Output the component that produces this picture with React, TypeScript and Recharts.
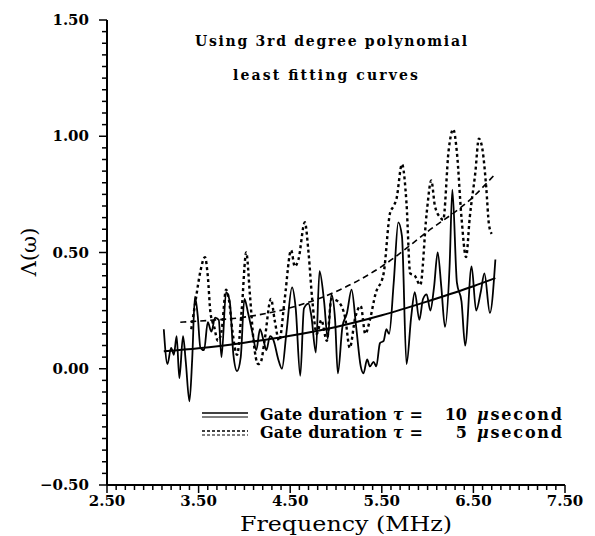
import React from 'react';
import { LineChart, Line, XAxis, YAxis } from 'recharts';

// Gate duration tau = 10 usecond (raw spectrum), [frequency MHz, Lambda]
const gate10: [number, number][] = [
  [3.12, 0.17], [3.16, 0.02], [3.2, 0.09], [3.23, 0.06], [3.26, 0.14], [3.29, -0.04],
  [3.33, 0.14], [3.36, 0.03], [3.4, -0.14], [3.43, 0.04], [3.46, 0.31], [3.49, 0.23],
  [3.52, 0.09], [3.56, 0.08], [3.6, 0.2], [3.64, 0.16], [3.68, 0.22], [3.72, 0.21],
  [3.75, 0.05], [3.8, 0.33], [3.84, 0.29], [3.88, 0.06], [3.92, -0.01], [3.96, 0.05],
  [4.0, 0.3], [4.04, 0.24], [4.09, 0.15], [4.13, 0.08], [4.17, 0.17], [4.21, 0.12],
  [4.24, 0.08], [4.28, 0.14], [4.32, 0.12], [4.37, 0.04], [4.41, 0.0], [4.46, 0.16],
  [4.52, 0.35], [4.56, 0.26], [4.61, -0.03], [4.65, 0.26], [4.7, 0.28], [4.73, 0.23],
  [4.78, 0.07], [4.82, 0.42], [4.87, 0.29], [4.91, 0.13], [4.95, 0.32], [4.99, 0.21],
  [5.02, -0.02], [5.07, 0.18], [5.12, 0.24], [5.17, 0.34], [5.22, 0.18], [5.27, 0.01],
  [5.3, -0.02], [5.34, 0.04], [5.37, 0.01], [5.41, 0.03], [5.44, 0.01], [5.48, 0.11],
  [5.52, 0.12], [5.55, 0.17], [5.58, 0.15], [5.63, 0.37], [5.68, 0.63], [5.72, 0.57],
  [5.77, 0.02], [5.82, 0.22], [5.86, 0.33], [5.91, 0.21], [5.95, 0.3], [5.99, 0.32],
  [6.03, 0.25], [6.07, 0.35], [6.11, 0.5], [6.15, 0.35], [6.19, 0.18], [6.24, 0.44],
  [6.27, 0.77], [6.32, 0.37], [6.37, 0.29], [6.41, 0.1], [6.48, 0.44], [6.53, 0.25],
  [6.58, 0.33], [6.62, 0.41], [6.68, 0.24], [6.74, 0.47],
];

// Gate duration tau = 5 usecond (raw spectrum)
const gate5: [number, number][] = [
  [3.42, 0.17], [3.47, 0.3], [3.52, 0.42], [3.57, 0.48], [3.6, 0.4], [3.63, 0.24],
  [3.67, 0.18], [3.71, 0.12], [3.75, 0.16], [3.8, 0.34], [3.83, 0.3], [3.87, 0.16],
  [3.92, 0.06], [3.97, 0.25], [4.02, 0.5], [4.06, 0.32], [4.1, 0.12], [4.15, 0.02],
  [4.18, 0.03], [4.22, 0.12], [4.29, 0.3], [4.33, 0.21], [4.38, 0.12], [4.44, 0.3],
  [4.51, 0.51], [4.55, 0.44], [4.59, 0.47], [4.66, 0.63], [4.7, 0.5], [4.74, 0.3],
  [4.79, 0.15], [4.84, 0.21], [4.9, 0.12], [4.95, 0.3], [5.02, 0.29], [5.1, 0.22],
  [5.15, 0.09], [5.21, 0.22], [5.27, 0.27], [5.32, 0.15], [5.37, 0.21], [5.43, 0.32],
  [5.52, 0.41], [5.59, 0.67], [5.63, 0.7], [5.66, 0.73], [5.72, 0.88], [5.77, 0.71],
  [5.81, 0.41], [5.86, 0.4], [5.92, 0.36], [5.99, 0.67], [6.04, 0.81], [6.08, 0.7],
  [6.14, 0.65], [6.17, 0.64], [6.23, 0.94], [6.28, 1.03], [6.32, 0.93], [6.37, 0.65],
  [6.42, 0.48], [6.46, 0.65], [6.52, 0.84], [6.56, 0.99], [6.6, 0.94], [6.64, 0.78],
  [6.67, 0.62], [6.7, 0.58],
];

// 3rd degree polynomial least-squares fits
const fit10: [number, number][] = [
  [3.12, 0.075], [3.5, 0.088], [4.0, 0.112], [4.5, 0.142], [5.0, 0.18],
  [5.5, 0.23], [6.0, 0.29], [6.5, 0.355], [6.74, 0.39],
];
const fit5: [number, number][] = [
  [3.3, 0.2], [3.5, 0.205], [4.0, 0.222], [4.5, 0.262], [5.0, 0.332],
  [5.5, 0.44], [6.0, 0.59], [6.5, 0.74], [6.72, 0.83],
];

const xMajorTicks = [2.5, 3.5, 4.5, 5.5, 6.5, 7.5];
const yMajorTicks = [-0.5, 0, 0.5, 1.0, 1.5];
const xMinorStep = 0.1;
const yMinorStep = 0.05;

const titleLines = ['Using 3rd degree polynomial', 'least fitting curves'];
const legendRows = [
  { num: '10', dash: false },
  { num: '5', dash: true },
];

const toPts = (arr: [number, number][]) => arr.map(([f, v]) => ({ f, v }));

const makeTicks = (lo: number, hi: number, step: number) => {
  const n = Math.round((hi - lo) / step);
  return Array.from({ length: n + 1 }, (_, i) => Math.round((lo + i * step) * 1000) / 1000);
};
const xTicks = makeTicks(2.5, 7.5, xMinorStep);
const yTicks = makeTicks(-0.5, 1.5, yMinorStep);

const isMajor = (v: number, majors: number[]) => majors.some((m) => Math.abs(m - v) < 1e-6);
const fmt = (v: number) => v.toFixed(2).replace('-', '\u2212');

const tickFont: React.CSSProperties = {
  fontFamily: '"DejaVu Serif", serif',
  fontWeight: 'bold',
  fontSize: 15,
  fill: '#000',
};

const XTick = (props: any) => {
  const { x, y, payload } = props;
  const major = isMajor(payload.value, xMajorTicks);
  return (
    <g>
      <line x1={x} x2={x} y1={y} y2={y + (major ? 8 : 5)} stroke="#000" strokeWidth={1.5} />
      {major && (
        <text x={x} y={y + 21} textAnchor="middle" style={tickFont}>
          {fmt(payload.value)}
        </text>
      )}
    </g>
  );
};

const YTick = (props: any) => {
  const { x, y, payload } = props;
  const major = isMajor(payload.value, yMajorTicks);
  return (
    <g>
      <line x1={x - (major ? 8 : 5)} x2={x} y1={y} y2={y} stroke="#000" strokeWidth={1.5} />
      {major && (
        <text x={x - 18} y={y + 5} textAnchor="end" style={tickFont}>
          {fmt(payload.value)}
        </text>
      )}
    </g>
  );
};

const textBold: React.CSSProperties = {
  fontFamily: '"DejaVu Serif", serif',
  fontWeight: 'bold',
  fontSize: 14,
  fill: '#000',
};

export default function App() {
  return (
    <div style={{ position: 'absolute', left: 0, top: 0, width: 595, height: 536, background: '#fff' }}>
      <LineChart
        width={595}
        height={536}
        margin={{ top: 20, right: 30, left: 0, bottom: 0 }}
      >
        <XAxis
          dataKey="f"
          type="number"
          domain={[2.5, 7.5]}
          ticks={xTicks}
          interval={0}
          tickSize={0}
          tickMargin={0}
          tick={<XTick />}
          height={51}
          axisLine={{ stroke: '#000', strokeWidth: 2 }}
          allowDuplicatedCategory={false}
        />
        <YAxis
          type="number"
          domain={[-0.5, 1.5]}
          ticks={yTicks}
          interval={0}
          tickSize={0}
          tickMargin={0}
          tick={<YTick />}
          width={107}
          axisLine={{ stroke: '#000', strokeWidth: 2 }}
        />
        <Line data={toPts(fit5)} dataKey="v" type="monotone" stroke="#000" strokeWidth={1.6}
          strokeDasharray="6 4" dot={false} isAnimationActive={false} />
        <Line data={toPts(fit10)} dataKey="v" type="monotone" stroke="#000" strokeWidth={2}
          dot={false} isAnimationActive={false} />
        <Line data={toPts(gate5)} dataKey="v" type="monotone" stroke="#000" strokeWidth={2.4}
          strokeDasharray="3 3" dot={false} isAnimationActive={false} />
        <Line data={toPts(gate10)} dataKey="v" type="monotone" stroke="#000" strokeWidth={1.8}
          dot={false} isAnimationActive={false} />
      </LineChart>
      <svg width={595} height={536} style={{ position: 'absolute', left: 0, top: 0, pointerEvents: 'none' }}>
        <text x={195} y={46} textLength={272} lengthAdjust="spacing" style={textBold}>{titleLines[0]}</text>
        <text x={233} y={80} textLength={185} lengthAdjust="spacing" style={textBold}>{titleLines[1]}</text>

        {legendRows.map((r, i) => {
          const cy = 415 + i * 18;
          return (
            <g key={i}>
              <line x1={202} x2={248} y1={cy - 2} y2={cy - 2} stroke="#000" strokeWidth={1.6}
                strokeDasharray={r.dash ? '3 2' : undefined} />
              <line x1={202} x2={248} y1={cy + 2} y2={cy + 2} stroke="#000" strokeWidth={1}
                strokeDasharray={r.dash ? '3 2' : undefined} />
              <text x={260} y={cy + 5} textLength={163} lengthAdjust="spacing" style={{ ...textBold, fontSize: 16 }}>
                Gate duration <tspan fontStyle="italic">τ</tspan> =
              </text>
              <text x={467} y={cy + 5} textAnchor="end" style={{ ...textBold, fontSize: 16 }}>{r.num}</text>
              <text x={477} y={cy + 5} textLength={85} lengthAdjust="spacing" style={{ ...textBold, fontSize: 16 }}>
                <tspan fontStyle="italic">μ</tspan>second
              </text>
            </g>
          );
        })}

        <text x={240} y={531} textLength={212} lengthAdjust="spacingAndGlyphs"
          style={{ fontFamily: '"DejaVu Serif", serif', fontSize: 20, fill: '#000' }}>
          Frequency (MHz)
        </text>
        <text x={0} y={0} transform="translate(36 252) rotate(-90)" textAnchor="middle"
          style={{ fontFamily: '"DejaVu Serif", serif', fontSize: 21, fill: '#000' }}>
          Λ(ω)
        </text>
      </svg>
    </div>
  );
}
